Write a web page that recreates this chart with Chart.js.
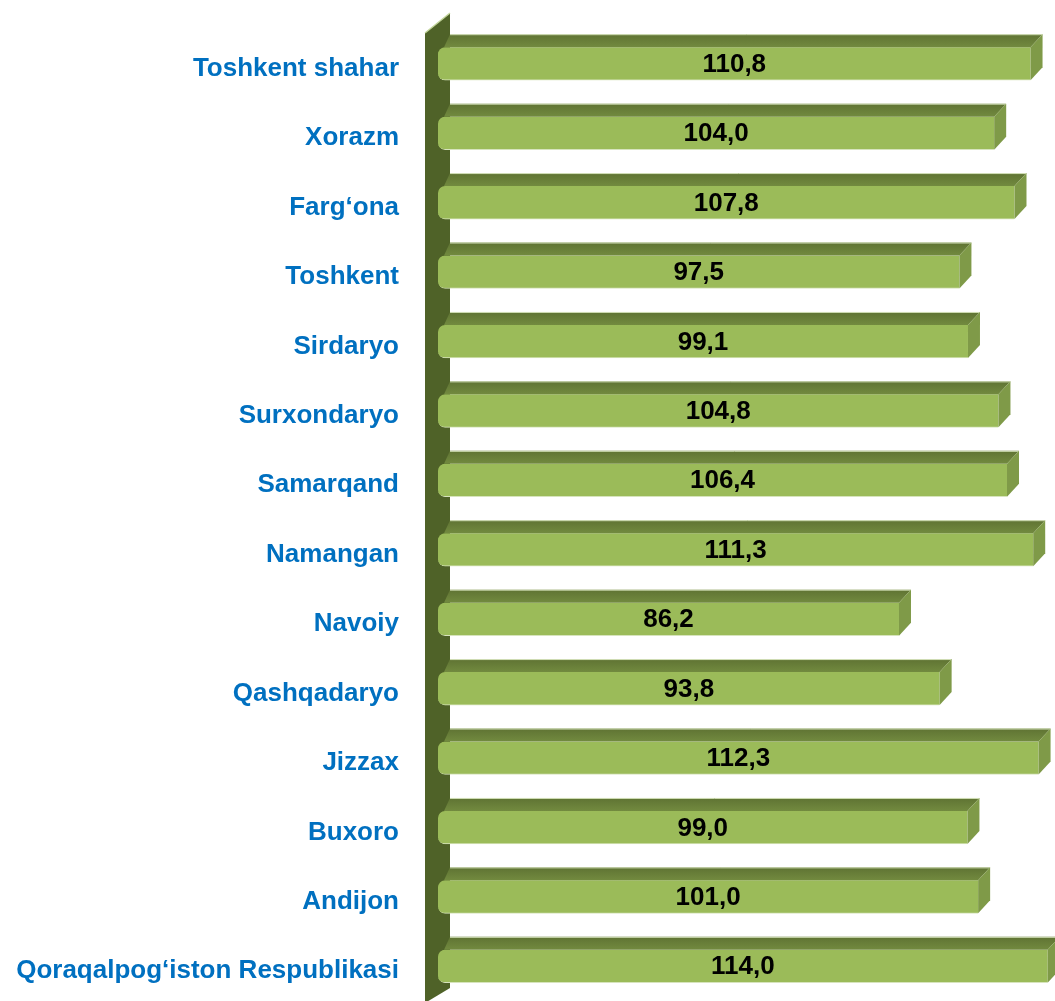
<!DOCTYPE html>
<html>
<head>
<meta charset="utf-8">
<script src="https://cdn.jsdelivr.net/npm/chart.js@4/dist/chart.umd.min.js"></script>
<style>
  html, body { margin: 0; padding: 0; background: #fff; }
  #wrap { width: 1055px; height: 1001px; }
</style>
</head>
<body>
<div id="wrap"><canvas id="chart" width="1055" height="1001"></canvas></div>
<script>
const regions = [
  'Toshkent shahar', 'Xorazm', 'Farg\u2018ona', 'Toshkent', 'Sirdaryo',
  'Surxondaryo', 'Samarqand', 'Namangan', 'Navoiy', 'Qashqadaryo',
  'Jizzax', 'Buxoro', 'Andijon', 'Qoraqalpog\u2018iston Respublikasi'
];
const values = [110.8, 104.0, 107.8, 97.5, 99.1, 104.8, 106.4, 111.3, 86.2, 93.8, 112.3, 99.0, 101.0, 114.0];

const DX = 12, DY = 13;
const FONT = '"Liberation Sans", Arial, sans-serif';

// 3D look: side wall, top and side faces of each bar, value labels
const bars3d = {
  id: 'bars3d',
  beforeDatasetsDraw(chart) {
    const { ctx, chartArea } = chart;
    const l = chartArea.left;
    ctx.save();
    ctx.fillStyle = '#4f6228';
    ctx.beginPath();
    ctx.moveTo(l - 13, chartArea.top + 4);
    ctx.lineTo(l + DX, chartArea.top - 16);
    ctx.lineTo(l + DX, chartArea.bottom - 13);
    ctx.lineTo(l - 13, chartArea.bottom + 2);
    ctx.closePath();
    ctx.fill();
    ctx.strokeStyle = '#c3d69b';
    ctx.lineWidth = 1.5;
    ctx.beginPath();
    ctx.moveTo(l - 13, chartArea.top + 4);
    ctx.lineTo(l + DX, chartArea.top - 16);
    ctx.stroke();
    ctx.restore();
  },
  afterDatasetsDraw(chart) {
    const { ctx } = chart;
    const meta = chart.getDatasetMeta(0);
    ctx.save();
    meta.data.forEach((bar, i) => {
      const x0 = bar.base, x1 = bar.x;
      const yt = bar.y - bar.height / 2, yb = bar.y + bar.height / 2;
      // top face
      const g = ctx.createLinearGradient(0, yt - DY, 0, yt);
      g.addColorStop(0, '#5f7333');
      g.addColorStop(1, '#728a3f');
      ctx.fillStyle = g;
      ctx.beginPath();
      ctx.moveTo(x0 + 6, yt);
      ctx.lineTo(x0 + DX, yt - DY);
      ctx.lineTo(x1 + DX, yt - DY);
      ctx.lineTo(x1, yt);
      ctx.closePath();
      ctx.fill();
      ctx.strokeStyle = '#d7e4bd';
      ctx.lineWidth = 1;
      ctx.beginPath();
      ctx.moveTo(x0 + DX, yt - DY + 0.5);
      ctx.lineTo(x1 + DX, yt - DY + 0.5);
      ctx.stroke();
      // side face
      ctx.fillStyle = '#7f9a48';
      ctx.beginPath();
      ctx.moveTo(x1, yt);
      ctx.lineTo(x1 + DX, yt - DY);
      ctx.lineTo(x1 + DX, yb - DY);
      ctx.lineTo(x1, yb);
      ctx.closePath();
      ctx.fill();
      // value label
      ctx.fillStyle = '#000';
      ctx.font = 'bold 26px ' + FONT;
      ctx.textAlign = 'center';
      ctx.textBaseline = 'middle';
      ctx.fillText(values[i].toFixed(1).replace('.', ','), (x0 + x1) / 2, bar.y + 1);
    });
    ctx.restore();
  }
};

new Chart(document.getElementById('chart'), {
  type: 'bar',
  data: {
    labels: regions,
    datasets: [{
      data: values,
      backgroundColor: '#9bbb59',
      borderColor: '#d7e4bd',
      borderWidth: { bottom: 1 },
      borderSkipped: false,
      borderRadius: { topLeft: 7, bottomLeft: 7 },
      barThickness: 33
    }]
  },
  options: {
    indexAxis: 'y',
    responsive: false,
    animation: false,
    layout: { padding: { top: 29, right: 2, bottom: 0, left: 0 } },
    plugins: { legend: { display: false }, tooltip: { enabled: false } },
    scales: {
      x: {
        min: 0,
        max: 115,
        display: false
      },
      y: {
        grid: { display: false },
        border: { display: false },
        afterFit(scale) {
          scale.width = 438;
          scale.paddingTop = 0;
          scale.paddingBottom = 0;
        },
        ticks: {
          color: '#0070c0',
          padding: 31,
          labelOffset: 5,
          font: { family: FONT, size: 26, weight: 'bold' }
        }
      }
    }
  },
  plugins: [bars3d]
});
</script>
</body>
</html>
